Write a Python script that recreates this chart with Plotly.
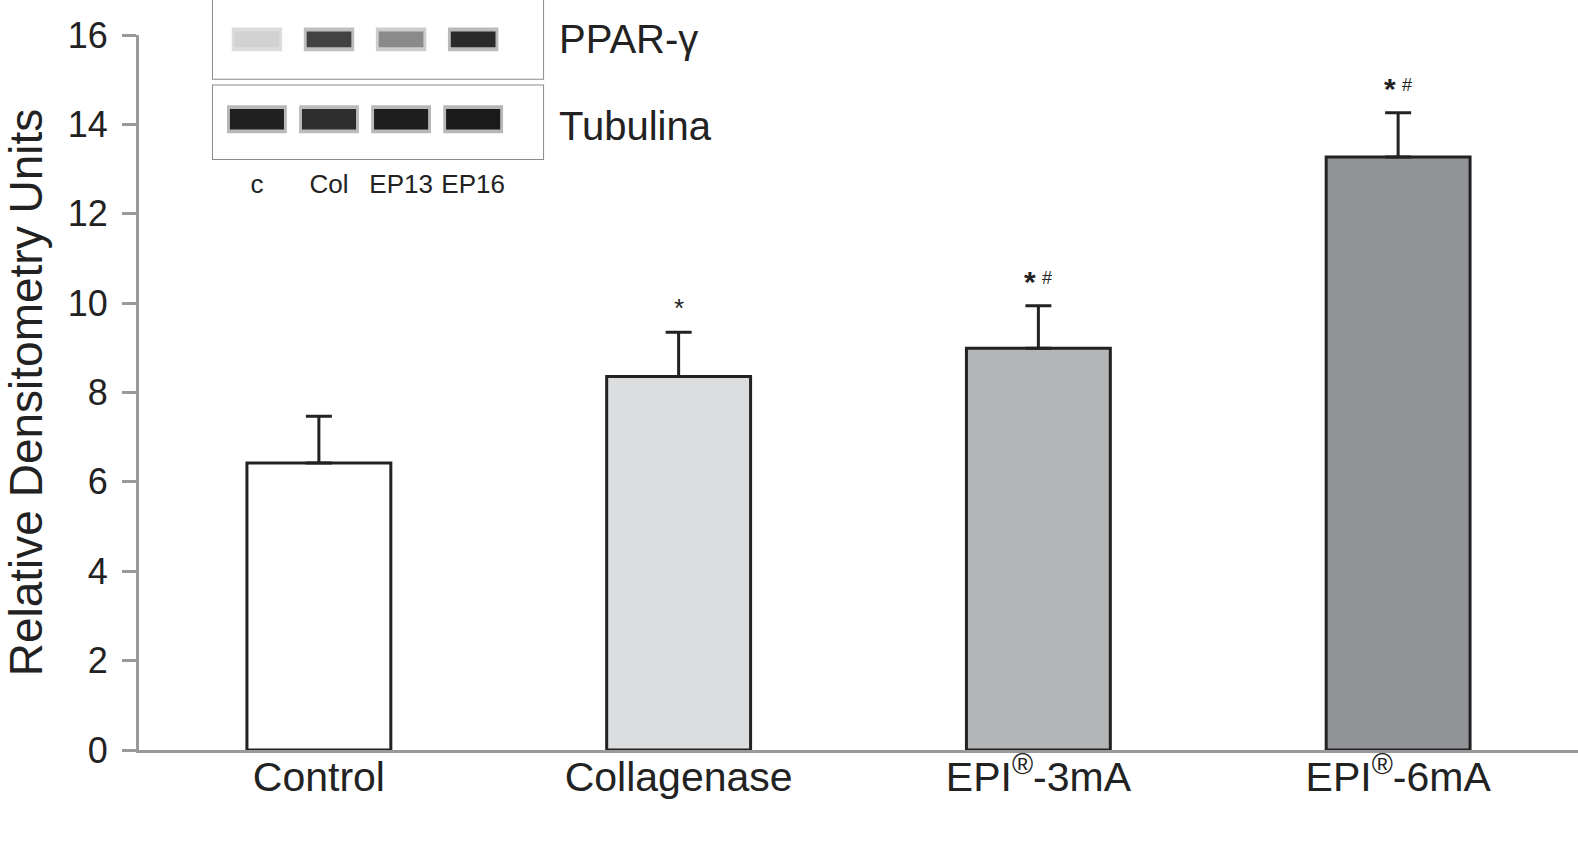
import plotly.graph_objects as go

# main chart data
groups = ["Control", "Collagenase", "EPI<sup>®</sup>-3mA", "EPI<sup>®</sup>-6mA"]
means = [6.42, 8.36, 8.99, 13.27]
errs = [1.05, 0.99, 0.95, 0.99]
marks = ["", "*", "*#", "*#"]
bar_colors = ["#ffffff", "#dcdddf", "#b4b5b7", "#939497"]

# inset blot (band darkness 0..1)
lanes = ["c", "Col", "EP13", "EP16"]
ppar_band = [0.06, 0.78, 0.42, 0.9]
tub_band = [0.95, 0.88, 0.96, 0.98]


def gray(v, soft=1.0):
    g = int(round(222 - 200 * v * soft))
    return f"rgb({g},{g},{g})"


FONT = "Liberation Sans, Arial, sans-serif"
ink = "#222222"
axis_gray = "#9a9a9a"

fig = go.Figure()

fig.add_trace(go.Bar(
    x=groups, y=means, width=0.4,
    marker=dict(color=bar_colors, line=dict(color=ink, width=3)),
    error_y=dict(type="data", symmetric=False, array=errs, arrayminus=[0] * len(errs),
                 color=ink, thickness=3, width=13),
    showlegend=False, hoverinfo="skip",
))

# significance marks above error bars
for g, m, e, s in zip(groups, means, errs, marks):
    if s == "*":
        fig.add_annotation(x=g, y=m + e, text="*", showarrow=False, yshift=24,
                           font=dict(family=FONT, size=26, color=ink))
    elif s == "*#":
        fig.add_annotation(x=g, y=m + e, text="<b>*</b>", showarrow=False, yshift=24,
                           xshift=-8, font=dict(family=FONT, size=30, color=ink))
        fig.add_annotation(x=g, y=m + e, text="#", showarrow=False, yshift=28,
                           xshift=9, font=dict(family=FONT, size=18, color=ink))

# blot bands: faint halo + core
for yname, band, h, w in [("y2", ppar_band, 0.2, 0.62), ("y3", tub_band, 0.28, 0.75)]:
    fig.add_trace(go.Bar(x=lanes, y=[h + 0.1] * 4, base=[0.35] * 4, width=w + 0.08,
                         marker=dict(color=[gray(v, 0.2) for v in band], line=dict(width=0)),
                         xaxis="x2", yaxis=yname, showlegend=False, hoverinfo="skip"))
    fig.add_trace(go.Bar(x=lanes, y=[h] * 4, base=[0.4] * 4, width=w,
                         marker=dict(color=[gray(v) for v in band], line=dict(width=0)),
                         xaxis="x2", yaxis=yname, showlegend=False, hoverinfo="skip"))

for yr in ["y2 domain", "y3 domain"]:
    fig.add_shape(type="rect", xref="x2 domain", yref=yr, x0=0, x1=1, y0=0, y1=1,
                  fillcolor="#e2e2e2", line=dict(color="#8a8a8a", width=2), layer="below")

fig.add_annotation(xref="paper", yref="y2 domain", x=0.2905, y=0.5, text="PPAR-γ",
                   showarrow=False, xanchor="left", font=dict(family=FONT, size=40, color=ink))
fig.add_annotation(xref="paper", yref="y3 domain", x=0.2905, y=0.45, text="Tubulina",
                   showarrow=False, xanchor="left", font=dict(family=FONT, size=40, color=ink))

fig.update_layout(
    width=1578, height=850,
    margin=dict(l=139, r=0, t=0, b=100),
    plot_bgcolor="white", paper_bgcolor="white",
    barmode="overlay",
    font=dict(family=FONT, color=ink),
    xaxis=dict(range=[-0.5, 3.5], showline=True, linecolor=axis_gray, linewidth=3,
               ticks="", showgrid=False, zeroline=False, automargin=False,
               tickfont=dict(family=FONT, size=41, color=ink), ticklabelstandoff=-11),
    yaxis=dict(domain=[0, 0.9533], range=[0, 16], dtick=2, showline=True,
               linecolor=axis_gray, linewidth=3, ticks="outside", ticklen=14,
               tickwidth=3, tickcolor=axis_gray, showgrid=False, zeroline=False,
               automargin=False, ticklabelstandoff=7,
               tickfont=dict(family=FONT, size=36, color=ink),
               title=dict(text="Relative Densitometry Units", standoff=14,
                          font=dict(family=FONT, size=46, color=ink))),
    xaxis2=dict(domain=[0.0514, 0.2808], anchor="y3", range=[-0.61, 3.97],
                showgrid=False, zeroline=False, showline=False, ticks="",
                automargin=False,
                tickfont=dict(family=FONT, size=26, color=ink), ticklabelstandoff=7),
    yaxis2=dict(domain=[0.895, 1.0], range=[0, 1], visible=False, anchor="x2"),
    yaxis3=dict(domain=[0.788, 0.886], range=[0, 1], visible=False, anchor="x2"),
)

# drop the default page margin so the figure sits at the window corner
fig.write_html("out.html", config={"displayModeBar": False},
               post_script="document.body.style.margin='0';")
